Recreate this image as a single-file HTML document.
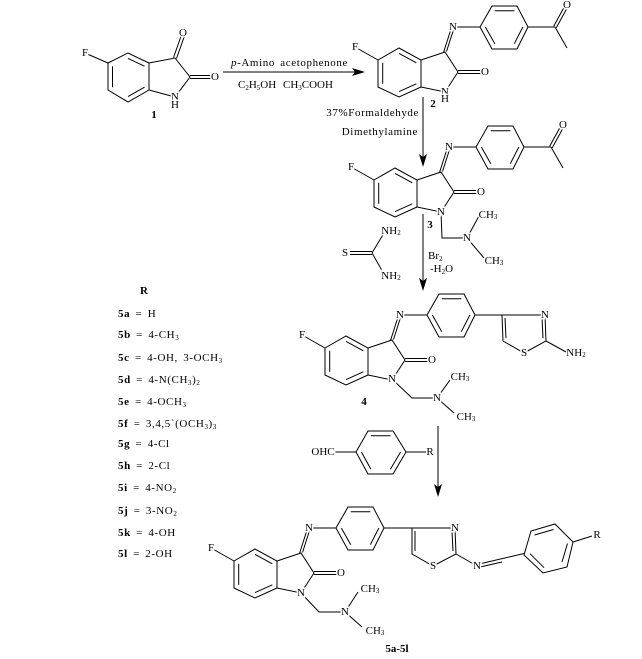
<!DOCTYPE html>
<html><head><meta charset="utf-8"><style>
html,body{margin:0;padding:0;background:#fff}
svg{display:block}
text{font-family:"Liberation Serif",serif;font-size:11px;fill:#000}
.l{stroke:#fff;stroke-width:3px;paint-order:stroke;text-anchor:middle;dominant-baseline:central}
.b{font-weight:bold}
.w{letter-spacing:0.6px;word-spacing:2px}
line,polyline,polygon.r{stroke:#000;stroke-width:1;fill:none}
.s{font-size:7px}
</style></head><body>
<svg width="642" height="659" viewBox="0 0 642 659" xmlns="http://www.w3.org/2000/svg">
<!-- Compound 1 -->
<g>
<line x1="85" y1="53" x2="108" y2="63"/>
<polygon class="r" points="108,63 128,53 149,63 149,90 128,102 108,90"/>
<line x1="128" y1="58.4" x2="144.5" y2="66.2"/>
<line x1="144.5" y1="87.2" x2="128" y2="96.6"/>
<line x1="112.5" y1="87.2" x2="112.5" y2="66.2"/>
<polyline points="149,63 175,58 190,77 175,97 149,90"/>
<line x1="173.5" y1="57.5" x2="181.5" y2="35"/><line x1="176.5" y1="58.5" x2="184.5" y2="36"/>
<line x1="190" y1="75.5" x2="212" y2="75.5"/><line x1="190" y1="78.5" x2="212" y2="78.5"/>
<text class="l" x="85" y="53">F</text>
<text class="l" x="183" y="33">O</text>
<text class="l" x="215" y="77">O</text>
<text class="l" x="175" y="97">N</text>
<text class="l" x="175" y="105">H</text>
<text class="l b" x="154" y="115">1</text>
</g>
<!-- Arrow 1 -->
<line x1="223" y1="72" x2="358" y2="72"/>
<polygon points="365,72 352,68 355,72 352,76" fill="#000"/>
<text class="w" x="231" y="66"><tspan font-style="italic">p</tspan>-Amino acetophenone</text>
<text x="238" y="88" font-size="9">C<tspan class="s" dy="2">2</tspan><tspan dy="-2">H</tspan><tspan class="s" dy="2">5</tspan><tspan dy="-2">OH</tspan></text>
<text x="283" y="88" font-size="9">CH<tspan class="s" dy="2">3</tspan><tspan dy="-2">COOH</tspan></text>

<!-- Compound 2 core -->
<g>
<line x1="355" y1="47" x2="378" y2="60"/>
<polygon class="r" points="378,60 399,48 421,60 421,87 399,97 378,87"/>
<line x1="399.1" y1="53.4" x2="416.3" y2="62.8"/>
<line x1="416.3" y1="83.8" x2="399.1" y2="91.6"/>
<line x1="382.7" y1="83.8" x2="382.7" y2="62.8"/>
<polyline points="421,60 445,52 458,72 445,92 421,87"/>
<line x1="443.5" y1="52.5" x2="451.5" y2="27.5"/><line x1="446.5" y1="51.5" x2="454.5" y2="26.5"/>
<line x1="458" y1="70.5" x2="482" y2="70.5"/><line x1="458" y1="73.5" x2="482" y2="73.5"/>
<line x1="453" y1="27" x2="480" y2="27"/>
<polygon class="r" points="480,27 492,6 517,6 528,27 517,49 492,49"/>
<line x1="494.8" y1="10.7" x2="514.3" y2="10.7"/>
<line x1="522.8" y1="27.1" x2="514.3" y2="43.7"/>
<line x1="494.8" y1="43.7" x2="485.4" y2="27.1"/>
<line x1="528" y1="27" x2="555" y2="27"/>
<line x1="553.7" y1="26.3" x2="565.7" y2="4.3"/><line x1="556.3" y1="27.7" x2="568.3" y2="5.7"/>
<line x1="555" y1="27" x2="567" y2="48"/>
<text class="l" x="355" y="47">F</text>
<text class="l" x="453" y="27">N</text>
<text class="l" x="485" y="72">O</text>
<text class="l" x="567" y="5">O</text>
<text class="l" x="445" y="92">N</text>
<text class="l" x="445" y="99">H</text>
<text class="l b" x="433" y="104">2</text>
</g>

<!-- Arrow down 2->3 -->
<line x1="423" y1="97" x2="423" y2="160"/>
<polygon points="423,167 419,154 423,157 427,154" fill="#000"/>
<text class="w" x="419" y="116" text-anchor="end">37%Formaldehyde</text>
<text class="w" x="418" y="135" text-anchor="end">Dimethylamine</text>

<!-- Compound 3 -->
<g transform="translate(-4,120)">
<line x1="355" y1="47" x2="378" y2="60"/>
<polygon class="r" points="378,60 399,48 421,60 421,87 399,97 378,87"/>
<line x1="399.1" y1="53.4" x2="416.3" y2="62.8"/>
<line x1="416.3" y1="83.8" x2="399.1" y2="91.6"/>
<line x1="382.7" y1="83.8" x2="382.7" y2="62.8"/>
<polyline points="421,60 445,52 458,72 445,92 421,87"/>
<line x1="443.5" y1="52.5" x2="451.5" y2="27.5"/><line x1="446.5" y1="51.5" x2="454.5" y2="26.5"/>
<line x1="458" y1="70.5" x2="482" y2="70.5"/><line x1="458" y1="73.5" x2="482" y2="73.5"/>
<line x1="453" y1="27" x2="480" y2="27"/>
<polygon class="r" points="480,27 492,6 517,6 528,27 517,49 492,49"/>
<line x1="494.8" y1="10.7" x2="514.3" y2="10.7"/>
<line x1="522.8" y1="27.1" x2="514.3" y2="43.7"/>
<line x1="494.8" y1="43.7" x2="485.4" y2="27.1"/>
<line x1="528" y1="27" x2="555" y2="27"/>
<line x1="553.7" y1="26.3" x2="565.7" y2="4.3"/><line x1="556.3" y1="27.7" x2="568.3" y2="5.7"/>
<line x1="555" y1="27" x2="567" y2="48"/>
<text class="l" x="355" y="47">F</text>
<text class="l" x="453" y="27">N</text>
<text class="l" x="485" y="72">O</text>
<text class="l" x="567" y="5">O</text>
</g>
<polyline points="441,212 442,238 467,238"/>
<line x1="467" y1="238" x2="479" y2="216"/>
<line x1="467" y1="238" x2="484" y2="258"/>
<text class="l" x="441" y="212">N</text>
<text class="l" x="467" y="238">N</text>
<text class="l" x="488" y="215" font-size="9">CH<tspan class="s" dy="2">3</tspan></text>
<text class="l" x="494" y="261" font-size="9">CH<tspan class="s" dy="2">3</tspan></text>
<text class="l b" x="430" y="225">3</text>

<!-- Thiourea -->
<line x1="350" y1="251.5" x2="372" y2="251.5"/><line x1="350" y1="254.5" x2="372" y2="254.5"/>
<line x1="372" y1="253" x2="384" y2="233"/>
<line x1="372" y1="253" x2="384" y2="274"/>
<text class="l" x="345" y="253">S</text>
<text class="l" x="391" y="231" font-size="9">NH<tspan class="s" dy="2">2</tspan></text>
<text class="l" x="391" y="276" font-size="9">NH<tspan class="s" dy="2">2</tspan></text>

<!-- Arrow 3->4 -->
<line x1="423" y1="214" x2="423" y2="284"/>
<polygon points="423,291 419,278 423,281 427,278" fill="#000"/>
<text x="428" y="259" font-size="9">Br<tspan class="s" dy="2">2</tspan></text>
<text x="430" y="272" font-size="9">-H<tspan class="s" dy="2">2</tspan><tspan dy="-2">O</tspan></text>

<!-- R list -->
<g class="w">
<text class="b" x="140" y="294">R</text>
<text x="118" y="317"><tspan class="b">5a</tspan> = H</text>
<text x="118" y="338"><tspan class="b">5b</tspan> = 4-CH<tspan class="s" dy="2">3</tspan></text>
<text x="118" y="361"><tspan class="b">5c</tspan> = 4-OH, 3-OCH<tspan class="s" dy="2">3</tspan></text>
<text x="118" y="383"><tspan class="b">5d</tspan> = 4-N(CH<tspan class="s" dy="2">3</tspan><tspan dy="-2">)</tspan><tspan class="s" dy="2">2</tspan></text>
<text x="118" y="405"><tspan class="b">5e</tspan> = 4-OCH<tspan class="s" dy="2">3</tspan></text>
<text x="118" y="427"><tspan class="b">5f</tspan>  = 3,4,5`(OCH<tspan class="s" dy="2">3</tspan><tspan dy="-2">)</tspan><tspan class="s" dy="2">3</tspan></text>
<text x="118" y="447"><tspan class="b">5g</tspan> = 4-Cl</text>
<text x="118" y="469"><tspan class="b">5h</tspan> = 2-Cl</text>
<text x="118" y="491"><tspan class="b">5i</tspan>  = 4-NO<tspan class="s" dy="2">2</tspan></text>
<text x="118" y="514"><tspan class="b">5j</tspan>  = 3-NO<tspan class="s" dy="2">2</tspan></text>
<text x="118" y="536"><tspan class="b">5k</tspan>  = 4-OH</text>
<text x="118" y="557"><tspan class="b">5l</tspan>  = 2-OH</text>
</g>

<!-- Compound 4 -->
<g transform="translate(-53,288)">
<line x1="355" y1="47" x2="378" y2="60"/>
<polygon class="r" points="378,60 399,48 421,60 421,87 399,97 378,87"/>
<line x1="399.1" y1="53.4" x2="416.3" y2="62.8"/>
<line x1="416.3" y1="83.8" x2="399.1" y2="91.6"/>
<line x1="382.7" y1="83.8" x2="382.7" y2="62.8"/>
<polyline points="421,60 445,52 458,72 445,92 421,87"/>
<line x1="443.5" y1="52.5" x2="451.5" y2="27.5"/><line x1="446.5" y1="51.5" x2="454.5" y2="26.5"/>
<line x1="458" y1="70.5" x2="482" y2="70.5"/><line x1="458" y1="73.5" x2="482" y2="73.5"/>
<line x1="453" y1="27" x2="480" y2="27"/>
<polygon class="r" points="480,27 492,6 517,6 528,27 517,49 492,49"/>
<line x1="494.8" y1="10.7" x2="514.3" y2="10.7"/>
<line x1="522.8" y1="27.1" x2="514.3" y2="43.7"/>
<line x1="494.8" y1="43.7" x2="485.4" y2="27.1"/>
<text class="l" x="355" y="47">F</text>
<text class="l" x="453" y="27">N</text>
<text class="l" x="485" y="72">O</text>
</g>
<line x1="475" y1="315" x2="502" y2="315"/>
<polygon class="r" points="502,315 545,315 546,341 524,353 503,341"/>
<line x1="542" y1="318" x2="543" y2="338"/>
<line x1="505" y1="318" x2="506" y2="338"/>
<line x1="546" y1="341" x2="566" y2="352"/>
<text class="l" x="545" y="315">N</text>
<text class="l" x="524" y="353">S</text>
<text class="l" x="576" y="353" font-size="9">NH<tspan class="s" dy="2">2</tspan></text>
<polyline points="392,379 412,398 437,398"/>
<line x1="437" y1="398" x2="450" y2="380"/>
<line x1="437" y1="398" x2="454" y2="413"/>
<text class="l" x="392" y="379">N</text>
<text class="l" x="437" y="398">N</text>
<text class="l" x="460" y="377" font-size="9">CH<tspan class="s" dy="2">3</tspan></text>
<text class="l" x="466" y="417" font-size="9">CH<tspan class="s" dy="2">3</tspan></text>
<text class="l b" x="364" y="402">4</text>

<!-- Benzaldehyde -->
<line x1="334" y1="452" x2="356" y2="452"/>
<polygon class="r" points="356,452 368,431 393,431 406,452 393,474 368,474"/>
<line x1="370.9" y1="435.7" x2="390.4" y2="435.7"/>
<line x1="400.5" y1="452.1" x2="390.4" y2="469.3"/>
<line x1="370.9" y1="469.3" x2="361.5" y2="452.1"/>
<line x1="406" y1="452" x2="426" y2="452"/>
<text class="l" x="323" y="452" font-size="9">OHC</text>
<text class="l" x="430" y="452" font-size="9">R</text>

<!-- Arrow 4->5 -->
<line x1="438" y1="426" x2="438" y2="490"/>
<polygon points="438,497 434,484 438,487 442,484" fill="#000"/>

<!-- Final compound -->
<g transform="translate(-144,501)">
<line x1="355" y1="47" x2="378" y2="60"/>
<polygon class="r" points="378,60 399,48 421,60 421,87 399,97 378,87"/>
<line x1="399.1" y1="53.4" x2="416.3" y2="62.8"/>
<line x1="416.3" y1="83.8" x2="399.1" y2="91.6"/>
<line x1="382.7" y1="83.8" x2="382.7" y2="62.8"/>
<polyline points="421,60 445,52 458,72 445,92 421,87"/>
<line x1="443.5" y1="52.5" x2="451.5" y2="27.5"/><line x1="446.5" y1="51.5" x2="454.5" y2="26.5"/>
<line x1="458" y1="70.5" x2="482" y2="70.5"/><line x1="458" y1="73.5" x2="482" y2="73.5"/>
<line x1="453" y1="27" x2="480" y2="27"/>
<polygon class="r" points="480,27 492,6 517,6 528,27 517,49 492,49"/>
<line x1="494.8" y1="10.7" x2="514.3" y2="10.7"/>
<line x1="522.8" y1="27.1" x2="514.3" y2="43.7"/>
<line x1="494.8" y1="43.7" x2="485.4" y2="27.1"/>
<text class="l" x="355" y="47">F</text>
<text class="l" x="453" y="27">N</text>
<text class="l" x="485" y="72">O</text>
</g>
<line x1="384" y1="528" x2="412" y2="528"/>
<polygon class="r" points="412,528 455,528 456,554 433,566 412,554"/>
<line x1="452" y1="531" x2="453" y2="551"/>
<line x1="415" y1="531" x2="415" y2="551"/>
<line x1="456" y1="554" x2="477" y2="566"/>
<line x1="477" y1="564.5" x2="524" y2="553.5"/><line x1="478" y1="567.5" x2="502" y2="562"/>
<polygon class="r" points="524,555 531,531 555,524 573,542 567,567 543,573"/>
<line x1="534.5" y1="535" x2="553.5" y2="529.5"/>
<line x1="567.5" y1="543.5" x2="562" y2="562"/>
<line x1="544" y1="567.7" x2="530" y2="553.7"/>
<line x1="573" y1="542" x2="592" y2="536"/>
<text class="l" x="455" y="528">N</text>
<text class="l" x="433" y="566">S</text>
<text class="l" x="477" y="566">N</text>
<text class="l" x="597" y="535" font-size="9">R</text>
<polyline points="301,593 319,612 345,612"/>
<line x1="345" y1="612" x2="358" y2="592"/>
<line x1="345" y1="612" x2="362" y2="627"/>
<text class="l" x="301" y="593">N</text>
<text class="l" x="345" y="612">N</text>
<text class="l" x="370" y="589" font-size="9">CH<tspan class="s" dy="2">3</tspan></text>
<text class="l" x="375" y="631" font-size="9">CH<tspan class="s" dy="2">3</tspan></text>
<text class="l b" x="397" y="649">5a-5l</text>
</svg>
</body></html>
